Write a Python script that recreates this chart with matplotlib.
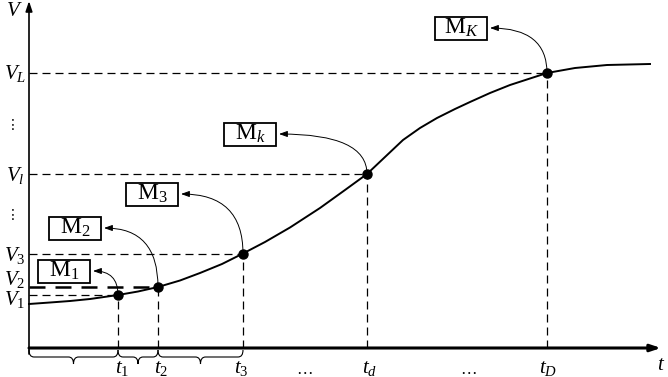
import numpy as np
import matplotlib
matplotlib.use("Agg")
import matplotlib.pyplot as plt
from matplotlib.path import Path
from matplotlib.patches import PathPatch, Rectangle

plt.rcParams['font.family'] = ['Liberation Serif', 'DejaVu Serif']
plt.rcParams['mathtext.fontset'] = 'custom'
plt.rcParams['mathtext.rm'] = 'Liberation Serif'
plt.rcParams['mathtext.it'] = 'Liberation Serif:italic'

# curve (t, V)
curve_t = [0, 21, 41, 61, 89, 109, 129, 151, 171, 193, 214, 236, 261, 291, 316,
           338, 356, 374, 391, 408, 426, 441, 461, 481, 501, 518, 546, 578, 621]
curve_v = [44, 45.5, 47, 49, 53, 56.5, 61, 67.5, 75, 84, 94.5, 106, 120.5, 140, 158,
           174, 191, 208, 220, 230, 239, 246, 255, 263, 269.5, 275, 280, 283, 284]

# marked points
pt_t = [89, 129, 214, 338, 518]
pt_v = [53, 61, 94.5, 174, 275]
box_names = [r'$\mathrm{M}_1$', r'$\mathrm{M}_2$', r'$\mathrm{M}_3$', r'$\mathrm{M}_k$', r'$\mathrm{M}_K$']
v_names = [r'$V_1$', r'$V_2$', r'$V_3$', r'$V_l$', r'$V_L$']
t_names = [r'$t_1$', r'$t_2$', r'$t_3$', r'$t_d$', r'$t_D$']

# layout (same units as the axes)
box_xy = [(35, 77), (46, 120), (123, 154), (221, 214), (432, 320)]
box_w, box_h = 52, 23
v_lab_y = [48, 68, 93, 173, 275]
t_lab_x = [93, 132, 212, 341, 519]
dots_t = [276, 439]
vdots_v = [133, 223]
brace_iv = [(0, 89), (89, 129), (129, 214)]

fig = plt.figure(figsize=(6.68, 3.77), dpi=100)
ax = fig.add_axes([0, 0, 1, 1])
ax.set_xlim(-29, 639)
ax.set_ylim(-29, 348)
ax.axis('off')

# axes with arrows
ax.annotate('', xy=(0, 347), xytext=(0, -6),
            arrowprops=dict(arrowstyle='-|>,head_length=0.6,head_width=0.2', lw=1.2, color='k',
                            shrinkA=0, shrinkB=0))
ax.annotate('', xy=(632, 0), xytext=(0, 0),
            arrowprops=dict(arrowstyle='-|>,head_length=0.6,head_width=0.2', lw=2.2, color='k',
                            shrinkA=0, shrinkB=0))
ax.text(-15, 337, r'$V$', fontsize=15, ha='center', va='center')
ax.text(632, -17, r'$t$', fontsize=15, ha='center', va='center')

# dashed guide lines
dash = (0, (6.4, 4))
for i, (t, v) in enumerate(zip(pt_t, pt_v)):
    lw = 1.8 if i == 1 else 0.9
    ax.plot([0, t], [v, v], color='k', lw=lw, ls=dash)
    ax.plot([t, t], [0, v], color='k', lw=0.9, ls=dash)

# curve and points
ax.plot(curve_t, curve_v, color='k', lw=1.4)
ax.plot(pt_t, pt_v, 'o', color='k', ms=6.5)

# labels
for y, s in zip(v_lab_y, v_names):
    ax.text(-14, y, s, fontsize=15, ha='center', va='center')
for y in vdots_v:
    ax.text(-16, y, '\u22ee', fontsize=10, ha='center', va='center', family='DejaVu Sans')
for x, s in zip(t_lab_x, t_names):
    ax.text(x, -20, s, fontsize=15, ha='center', va='center')
for x in dots_t:
    ax.text(x, -22, '\u2026', fontsize=12, ha='center', va='center')

# boxes with curved arrows
for (cx, cy), s, t, v in zip(box_xy, box_names, pt_t, pt_v):
    ax.add_patch(Rectangle((cx - box_w / 2, cy - box_h / 2), box_w, box_h,
                           fill=False, lw=1.3, ec='k'))
    ax.text(cx, cy, s, fontsize=17, ha='center', va='center')
    ax.annotate('', xy=(cx + box_w / 2 + 3, cy), xytext=(t, v),
                arrowprops=dict(arrowstyle='-|>,head_length=0.5,head_width=0.18', lw=0.7,
                                color='k', shrinkA=0, shrinkB=0,
                                connectionstyle='angle3,angleA=90,angleB=0'))

# braces under the axis
for a, b in brace_iv:
    m = (a + b) / 2
    verts = [(a, -2), (a, -9), (a + 5, -9), (m - 5, -9), (m, -9), (m, -16),
             (m, -9), (m + 5, -9), (b - 5, -9), (b, -9), (b, -2)]
    codes = [Path.MOVETO, Path.CURVE3, Path.CURVE3, Path.LINETO, Path.CURVE3, Path.CURVE3,
             Path.CURVE3, Path.CURVE3, Path.LINETO, Path.CURVE3, Path.CURVE3]
    ax.add_patch(PathPatch(Path(verts, codes), fill=False, lw=0.8, ec='k'))

fig.savefig('out.png', dpi=100)
